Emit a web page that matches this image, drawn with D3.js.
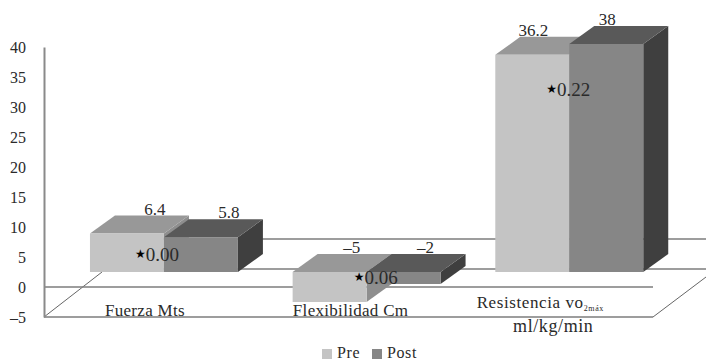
<!DOCTYPE html>
<html>
<head>
<meta charset="utf-8">
<script src="https://cdn.jsdelivr.net/npm/d3@7"></script>
<style>
  html, body { margin: 0; padding: 0; background: #fff; }
  text { font-family: "Liberation Serif", serif; fill: #2a2a2a; }
</style>
</head>
<body>
<div class="canvas"></div>
<script>
const categories = ['Fuerza Mts', 'Flexibilidad Cm', 'Resistencia'];
const seriesNames = ['Pre', 'Post'];
const preValues = [6.4, -5, 36.2];
const postValues = [5.8, -2, 38];
const pValues = ['0.00', '0.06', '0.22'];
const yTicks = [-5, 0, 5, 10, 15, 20, 25, 30, 35, 40];
const wallTicks = [0, 5];

const series = [preValues, postValues];

const dims = { width: 706, height: 360 };
const depth = { x: 25, y: 18 };
// bars stand 15px above the axis zero, that's how the 3d floor works out
const barLift = 15;

// hand tweaks for label placement, one per category
const valueDx = [65, 59, 38];
const catDx = [-19, -16, -29];
const pDx = [45, 61, 51];
const pDy = [27, 12, 41];

const colours = {
  Pre: { front: '#c4c4c4', top: '#989898', side: '#8e8e8e' },
  Post: { front: '#868686', top: '#595959', side: '#3f3f3f' }
};

const svg = d3.select('.canvas').append('svg')
  .attr('width', dims.width)
  .attr('height', dims.height)
  .style('display', 'block');

const y = d3.scaleLinear().domain([-5, 40]).range([317, 47]);

const x0 = d3.scaleBand()
  .domain(categories)
  .range([44, 652])
  .paddingInner(0.27)
  .paddingOuter(0.135)
  .align(0.84);

const x1 = d3.scaleBand()
  .domain(seriesNames)
  .range([0, x0.bandwidth()]);

const line = (x1p, y1p, x2p, y2p, col, w) => svg.append('line')
  .attr('x1', x1p).attr('y1', y1p)
  .attr('x2', x2p).attr('y2', y2p)
  .attr('stroke', col)
  .attr('stroke-width', w);

const floorLeft = x0.range()[0];
const floorRight = x0.range()[1] + 1;
const backLeft = floorLeft + 58;

// back wall lines, run off the right side
wallTicks.forEach(t => {
  line(backLeft, y(t) - depth.y, dims.width, y(t) - depth.y, '#7c7c7c', 1.4);
});

// floor
line(floorLeft, y(-5), backLeft, y(0) - barLift, '#666', 1);
line(floorRight, y(-5), dims.width, y(-5) - 40, '#666', 1);
line(floorLeft, y(-5), floorRight, y(-5), '#7c7c7c', 1.4);
line(floorLeft, y(0), floorRight, y(0), '#7c7c7c', 1.4);

// y axis
const yAxis = d3.axisLeft(y)
  .tickValues(yTicks)
  .tickSize(0)
  .tickPadding(18)
  .tickFormat(d => d < 0 ? '\u2013' + Math.abs(d) : d);

const axisG = svg.append('g')
  .attr('transform', `translate(${floorLeft}, 0)`)
  .call(yAxis);

axisG.select('.domain').attr('stroke', '#8a8a8a').attr('stroke-width', 2);
axisG.selectAll('text')
  .style('font-family', '"Liberation Serif", serif')
  .style('font-size', '16px')
  .attr('fill', '#2a2a2a');

const pts = a => a.map(p => p.join(',')).join(' ');

// bars, pre first so post sits over it
categories.forEach((cat, c) => {
  seriesNames.forEach((name, s) => {
    const v = series[s][c];
    const left = x0(cat) + x1(name);
    const right = left + x1.bandwidth();
    const base = y(0) - barLift;
    const end = y(v) - barLift;
    const hi = Math.min(base, end);
    const lo = Math.max(base, end);
    const col = colours[name];
    const g = svg.append('g');

    g.append('polygon')
      .attr('points', pts([[right, hi], [right + depth.x, hi - depth.y], [right + depth.x, lo - depth.y], [right, lo]]))
      .attr('fill', col.side);
    g.append('polygon')
      .attr('points', pts([[left, hi], [left + depth.x, hi - depth.y], [right + depth.x, hi - depth.y], [right, hi]]))
      .attr('fill', col.top);
    g.append('rect')
      .attr('x', left).attr('y', hi)
      .attr('width', x1.bandwidth())
      .attr('height', lo - hi)
      .attr('fill', col.front);
  });
});

// value labels above each bar
categories.forEach((cat, c) => {
  seriesNames.forEach((name, s) => {
    const v = series[s][c];
    const hi = Math.min(y(0), y(v)) - barLift;
    svg.append('text')
      .attr('x', x0(cat) + x1(name) + valueDx[c])
      .attr('y', hi - depth.y - 1)
      .attr('text-anchor', 'middle')
      .style('font-size', '17px')
      .text(v < 0 ? '\u2013' + Math.abs(v) : v);
  });
});

// star + p value
categories.forEach((cat, c) => {
  const hi = Math.min(y(0), y(preValues[c])) - barLift;
  const t = svg.append('text')
    .attr('x', x0(cat) + pDx[c])
    .attr('y', hi + pDy[c])
    .style('font-size', '19px');
  t.append('tspan')
    .style('font-family', '"DejaVu Sans", sans-serif')
    .style('font-size', '12px')
    .attr('fill', '#000')
    .attr('dy', -3)
    .text('\u2605');
  t.append('tspan')
    .attr('dy', 3)
    .text(pValues[c]);
});

// category labels
categories.forEach((cat, c) => {
  const lx = x0(cat) + x0.bandwidth() / 2 + catDx[c];
  const t = svg.append('text')
    .attr('x', lx)
    .attr('y', cat === 'Resistencia' ? 308 : 316)
    .attr('text-anchor', 'middle')
    .style('font-size', '17px')
    .style('letter-spacing', cat === 'Resistencia' ? '0.6px' : '0.3px');
  if (cat === 'Resistencia') {
    t.append('tspan').text('Resistencia vo');
    t.append('tspan').attr('dy', 3).style('font-size', '8px').text('2máx');
    svg.append('text')
      .attr('x', lx + 13)
      .attr('y', 332)
      .attr('text-anchor', 'middle')
      .style('font-size', '18px')
      .style('letter-spacing', '0.6px')
      .text('ml/kg/min');
  } else {
    t.text(cat);
  }
});

// legend
const legendX = d3.scaleOrdinal().domain(seriesNames).range([322, 372]);
seriesNames.forEach(name => {
  svg.append('rect')
    .attr('x', legendX(name)).attr('y', 349)
    .attr('width', 10).attr('height', 10)
    .attr('fill', colours[name].front);
  svg.append('text')
    .attr('x', legendX(name) + 15).attr('y', 358)
    .style('font-size', '16px')
    .style('letter-spacing', '0.6px')
    .text(name);
});
</script>
</body>
</html>
